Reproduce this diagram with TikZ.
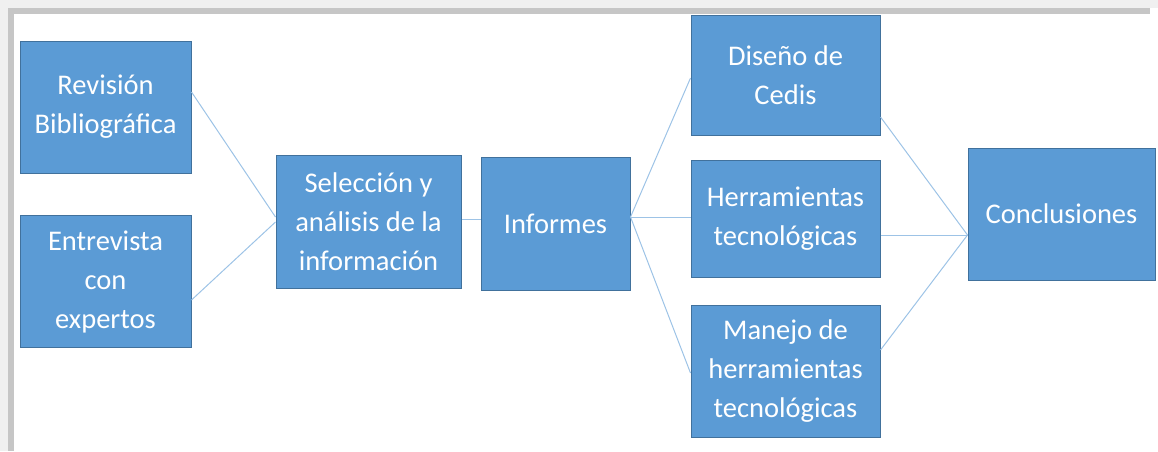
\documentclass[tikz,border=0pt]{standalone}
\usepackage{fontspec}
\setmainfont{Carlito}
\usepackage{xcolor}
\definecolor{boxfill}{HTML}{5B9BD5}
\definecolor{boxline}{HTML}{41719C}
\definecolor{linkcol}{HTML}{9DC3E6}

\begin{document}
\begin{tikzpicture}[x=1pt,y=-1pt]

        \tikzset{
            box/.style={draw=boxline, line width=1pt, fill=boxfill, text=white, align=center,
                        font=\fontsize{28.5}{39}\selectfont, inner sep=0pt, minimum height=132pt},
            box_narrow/.style={box, minimum width=171pt},
            box_wide/.style={box, minimum width=187pt},
            link/.style={-, draw=linkcol, line width=1pt}
        }

        \useasboundingbox (0,0) rectangle (1158,451);

        % frame shadow
        \fill[gray!12] (0,0) rectangle (1158,8);
        \fill[gray!12] (0,0) rectangle (8,451);
        \fill[gray!45] (8,8) rectangle (1150,14);
        \fill[gray!45] (8,8) rectangle (14,451);

        \node[box_narrow] (rev) at (105.5, 107) {Revisión\\Bibliográfica};
        \node[box_narrow] (ent) at (105.5, 281.5) {Entrevista\\con\\expertos};

        \node[box, minimum width=185pt, minimum height=133pt] (sel) at (368.5, 221.5) {Selección y\\análisis de la\\información};
        \node[box, minimum width=149pt, minimum height=133pt] (inf) at (555.5, 223.5) {Informes};

        \node[box, minimum width=189pt, minimum height=120pt] (dis) at (785.5, 75) {Diseño de\\Cedis};
        \node[box, minimum width=189pt, minimum height=117pt] (her) at (785.5, 218.5) {Herramientas\\tecnológicas};
        \node[box, minimum width=189pt] (man) at (785.5, 371) {Manejo de\\herramientas\\tecnológicas};

        \node[box_wide] (con) at (1061.5, 214) {Conclusiones};

        \draw[link] ([yshift=15pt]rev.east) -- ([yshift=4.5pt]sel.west);
        \draw[link] ([yshift=-18.5pt]ent.east) -- ([yshift=-0.5pt]sel.west);
        \draw[link] ([yshift=2.5pt]sel.east) -- ([yshift=4.5pt]inf.west);

        \draw[link] ([yshift=6.5pt]inf.east) -- ([yshift=-3pt]dis.west);
        \draw[link] ([yshift=6.5pt]inf.east) -- ([yshift=1.5pt]her.west);
        \draw[link] ([yshift=6.5pt]inf.east) -- ([yshift=-2pt]man.west);

        \draw[link] ([yshift=-42pt]dis.east) -- ([yshift=-21pt]con.west);
        \draw[link] ([yshift=-16.5pt]her.east) -- ([yshift=-21pt]con.west);
        \draw[link] ([yshift=21pt]man.east) -- ([yshift=-21pt]con.west);

    \end{tikzpicture}
\end{document}
